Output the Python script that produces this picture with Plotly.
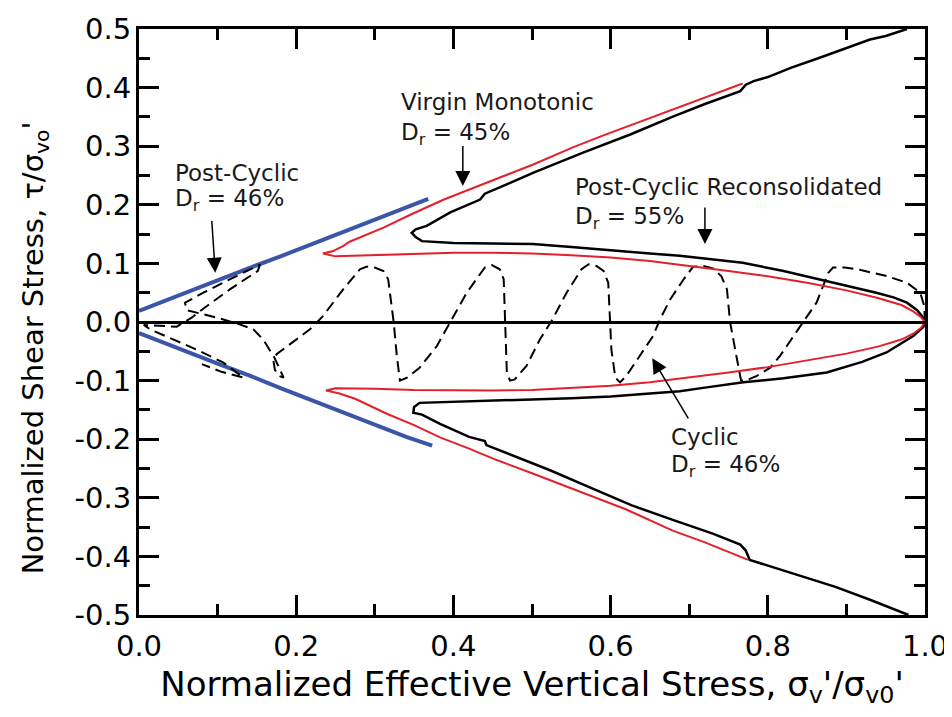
import plotly.graph_objects as go

# x = sigma_v'/sigma_v0', y = tau/sigma_v0'
# virgin monotonic (red), one continuous path
red_x = [0.768, 0.74, 0.70, 0.66, 0.626, 0.59, 0.552, 0.50, 0.46, 0.42, 0.388, 0.35, 0.311, 0.268, 0.26, 0.247, 0.234,
         0.25, 0.30, 0.35, 0.40, 0.45, 0.50, 0.55, 0.60, 0.65, 0.70, 0.75, 0.80, 0.85, 0.90, 0.94, 0.97, 0.985, 0.995, 1.0,
         0.995, 0.985, 0.97, 0.94, 0.90, 0.85, 0.80, 0.75, 0.70, 0.65, 0.60, 0.55, 0.50, 0.45, 0.40, 0.35, 0.30, 0.25, 0.238,
         0.255, 0.275, 0.316, 0.35, 0.383, 0.42, 0.456, 0.50, 0.54, 0.575, 0.62, 0.679, 0.72, 0.775]
red_y = [0.407, 0.393, 0.374, 0.354, 0.337, 0.318, 0.298, 0.268, 0.247, 0.226, 0.209, 0.186, 0.161, 0.137, 0.130, 0.121, 0.117,
         0.112, 0.114, 0.116, 0.118, 0.118, 0.117, 0.114, 0.110, 0.104, 0.096, 0.087, 0.078, 0.067, 0.054, 0.041, 0.029, 0.018, 0.008, 0.0,
         -0.010, -0.020, -0.030, -0.042, -0.054, -0.066, -0.077, -0.086, -0.095, -0.103, -0.109, -0.113, -0.116, -0.117, -0.117, -0.116, -0.114, -0.113, -0.117,
         -0.122, -0.131, -0.157, -0.176, -0.197, -0.216, -0.236, -0.258, -0.279, -0.296, -0.320, -0.356, -0.376, -0.406]

# post-cyclic reconsolidated (black)
blk_x = [0.977, 0.95, 0.93, 0.90, 0.866, 0.83, 0.80, 0.782, 0.772, 0.765, 0.72, 0.68, 0.625, 0.565, 0.502, 0.47, 0.44, 0.434,
         0.396, 0.366, 0.352, 0.347, 0.352, 0.36,
         0.40, 0.45, 0.501, 0.55, 0.60, 0.65, 0.688, 0.72, 0.768, 0.82, 0.875, 0.91, 0.938, 0.96, 0.977, 0.99, 0.998, 1.0,
         0.998, 0.985, 0.965, 0.951, 0.92, 0.875, 0.82, 0.769, 0.72, 0.688, 0.65, 0.60, 0.55, 0.501, 0.45, 0.40, 0.357, 0.35, 0.349,
         0.36, 0.383, 0.42, 0.44, 0.442, 0.48, 0.523, 0.575, 0.627, 0.68, 0.73, 0.765, 0.772, 0.777, 0.83, 0.886, 0.93, 0.96, 0.979]
blk_y = [0.500, 0.488, 0.482, 0.468, 0.451, 0.434, 0.418, 0.411, 0.405, 0.394, 0.372, 0.351, 0.320, 0.289, 0.255, 0.236, 0.219, 0.209,
         0.187, 0.164, 0.158, 0.152, 0.145, 0.138,
         0.135, 0.134, 0.133, 0.128, 0.122, 0.117, 0.113, 0.108, 0.101, 0.087, 0.070, 0.059, 0.050, 0.042, 0.033, 0.020, 0.007, 0.0,
         -0.008, -0.024, -0.040, -0.052, -0.068, -0.086, -0.096, -0.103, -0.112, -0.118, -0.122, -0.127, -0.130, -0.132, -0.134, -0.136, -0.138, -0.145, -0.155,
         -0.158, -0.174, -0.196, -0.203, -0.210, -0.230, -0.253, -0.283, -0.313, -0.338, -0.361, -0.380, -0.390, -0.406, -0.428, -0.452, -0.474, -0.490, -0.500]

# post-cyclic (blue), upper and lower branches
blue_up_x = [0.0, 0.03, 0.06, 0.10, 0.14, 0.18, 0.22, 0.26, 0.30, 0.34, 0.368]
blue_up_y = [0.019, 0.035, 0.050, 0.071, 0.092, 0.112, 0.133, 0.153, 0.174, 0.195, 0.210]
blue_lo_x = [0.0, 0.03, 0.06, 0.10, 0.14, 0.18, 0.22, 0.26, 0.30, 0.34, 0.373]
blue_lo_y = [-0.019, -0.034, -0.050, -0.071, -0.091, -0.113, -0.134, -0.155, -0.176, -0.196, -0.211]

# cyclic (dashed), in loading order
cyc_x = [1.0, 0.999, 0.994, 0.977, 0.951, 0.917, 0.898, 0.883, 0.877, 0.862, 0.845, 0.8155, 0.803, 0.786, 0.772, 0.766,
         0.760, 0.752, 0.748, 0.741, 0.731, 0.718, 0.705, 0.693, 0.676, 0.663, 0.654, 0.637, 0.620, 0.612,
         0.606, 0.601, 0.599, 0.597, 0.591, 0.582, 0.572, 0.563, 0.544, 0.525, 0.510, 0.493, 0.478, 0.472,
         0.468, 0.4656, 0.464, 0.459, 0.449, 0.440, 0.417, 0.396, 0.379, 0.357, 0.341, 0.332,
         0.328, 0.324, 0.317, 0.311, 0.300, 0.290, 0.281, 0.260, 0.234, 0.2175, 0.188, 0.175,
         0.171, 0.173, 0.178, 0.184, 0.172, 0.158, 0.1455, 0.128, 0.099, 0.061, 0.0585,
         0.082, 0.116, 0.154, 0.151, 0.116, 0.086, 0.067, 0.048, 0.006,
         0.014, 0.073, 0.107, 0.133, 0.105, 0.080]
cyc_y = [0.0, 0.027, 0.050, 0.067, 0.0785, 0.089, 0.093, 0.093, 0.084, 0.033, 0.0, -0.058, -0.078, -0.092, -0.100, -0.100,
         -0.058, 0.0, 0.056, 0.078, 0.091, 0.0955, 0.0945, 0.073, 0.039, 0.005, -0.024, -0.058, -0.092, -0.103,
         -0.095, -0.047, 0.0, 0.067, 0.087, 0.0955, 0.0985, 0.090, 0.050, 0.002, -0.030, -0.075, -0.098, -0.100,
         -0.086, 0.0, 0.073, 0.090, 0.097, 0.093, 0.050, 0.0, -0.041, -0.078, -0.095, -0.100,
         -0.058, 0.0, 0.073, 0.087, 0.093, 0.0945, 0.090, 0.056, 0.010, -0.0125, -0.041, -0.055,
         -0.066, -0.082, -0.092, -0.095, -0.060, -0.030, -0.0125, -0.004, 0.0075, 0.020, 0.033,
         0.050, 0.073, 0.098, 0.087, 0.056, 0.027, 0.0075, -0.008, -0.005,
         -0.0125, -0.047, -0.069, -0.095, -0.085, -0.072]

x_ticks = [0.0, 0.2, 0.4, 0.6, 0.8, 1.0]
x_labels = ["0.0", "0.2", "0.4", "0.6", "0.8", "1.0"]
y_ticks = [0.5, 0.4, 0.3, 0.2, 0.1, 0.0, -0.1, -0.2, -0.3, -0.4, -0.5]
y_labels = ["0.5", "0.4", "0.3", "0.2", "0.1", "0.0", "-0.1", "-0.2", "-0.3", "-0.4", "-0.5"]

RED = "#e3202b"
BLUE = "#3b56a8"
FONT = "DejaVu Sans"

fig = go.Figure()
fig.add_trace(go.Scatter(x=blue_up_x, y=blue_up_y, mode="lines", line=dict(color=BLUE, width=4)))
fig.add_trace(go.Scatter(x=blue_lo_x, y=blue_lo_y, mode="lines", line=dict(color=BLUE, width=4)))
fig.add_trace(go.Scatter(x=cyc_x, y=cyc_y, mode="lines", line=dict(color="black", width=2, dash="11px,6px")))
fig.add_trace(go.Scatter(x=blk_x, y=blk_y, mode="lines", line=dict(color="black", width=2.5)))
fig.add_trace(go.Scatter(x=red_x, y=red_y, mode="lines", line=dict(color=RED, width=2)))

txt = dict(size=23, color="#1a1a1a", family=FONT)
labels = [
    (0.331, 0.375, "Virgin Monotonic"),
    (0.331, 0.320, "D<sub>r</sub> = 45%"),
    (0.552, 0.231, "Post-Cyclic Reconsolidated"),
    (0.552, 0.177, "D<sub>r</sub> = 55%"),
    (0.043, 0.255, "Post-Cyclic"),
    (0.043, 0.208, "D<sub>r</sub> = 46%"),
    (0.674, -0.196, "Cyclic"),
    (0.674, -0.246, "D<sub>r</sub> = 46%"),
]
for lx, ly, t in labels:
    fig.add_annotation(x=lx, y=ly, text=t, showarrow=False, xanchor="left", yanchor="middle", font=txt)

# arrows: (tip x, tip y, tail x, tail y)
arrows = [
    (0.412, 0.232, 0.412, 0.303),
    (0.720, 0.133, 0.720, 0.198),
    (0.097, 0.084, 0.0925, 0.175),
    (0.653, -0.062, 0.700, -0.167),
]
for tx, ty, sx, sy in arrows:
    fig.add_annotation(x=tx, y=ty, ax=sx, ay=sy, axref="x", ayref="y", text="",
                       showarrow=True, arrowhead=2, arrowsize=2, arrowwidth=1.5, arrowcolor="black")

# y title sits a little below the axis middle in the original
fig.add_annotation(x=0, y=0.455, xref="paper", yref="paper", xshift=-104, textangle=-90,
                   text="Normalized Shear Stress, τ/σ<sub>vo</sub>'", showarrow=False,
                   xanchor="center", yanchor="middle",
                   font=dict(size=29, family=FONT, color="black"))

fig.update_xaxes(range=[0, 1], tickvals=x_ticks, ticktext=x_labels, automargin=False,
                 ticks="inside", ticklen=20, tickwidth=3, tickcolor="black",
                 minor=dict(dtick=0.1, ticks="inside", ticklen=11, tickwidth=3, tickcolor="black"),
                 showline=True, linewidth=3, linecolor="black", mirror="ticks",
                 showgrid=False, zeroline=False, ticklabelstandoff=3, ticklabeloverflow="allow",
                 tickfont=dict(size=29, family=FONT, color="black"),
                 title=dict(text="Normalized Effective Vertical Stress, σ<sub>v</sub>'/σ<sub>v0</sub>'",
                            font=dict(size=34, family=FONT, color="black"), standoff=17))
fig.update_yaxes(range=[-0.5, 0.5], tickvals=y_ticks, ticktext=y_labels, automargin=False,
                 ticks="inside", ticklen=20, tickwidth=3, tickcolor="black",
                 minor=dict(dtick=0.05, ticks="inside", ticklen=11, tickwidth=3, tickcolor="black"),
                 showline=True, linewidth=3, linecolor="black", mirror="ticks",
                 showgrid=False, zeroline=True, zerolinecolor="black", zerolinewidth=3,
                 ticklabelstandoff=-1, ticklabeloverflow="allow",
                 tickfont=dict(size=29, family=FONT, color="black"))

# page body has an 8px margin, so the figure sits at (8, 8)
fig.update_layout(width=944, height=701, showlegend=False,
                  plot_bgcolor="white", paper_bgcolor="white",
                  margin=dict(l=131, r=27, t=21, b=94))

fig.write_html("out.html")
